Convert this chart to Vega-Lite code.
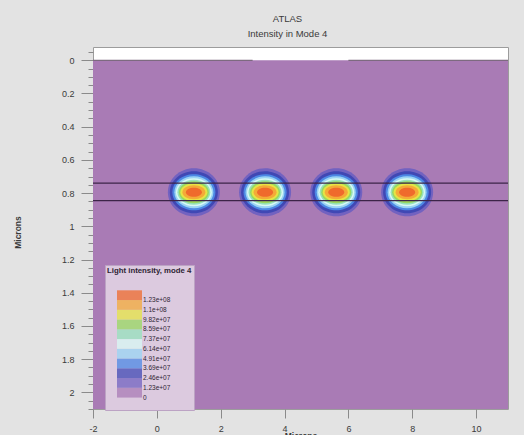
{
  "$schema": "https://vega.github.io/schema/vega-lite/v6.json",
  "width": 415,
  "height": 362,
  "autosize": {"type": "none"},
  "padding": {"left": 93, "top": 47, "right": 16, "bottom": 26},
  "background": "#e3e3e3",
  "title": {
    "text": "ATLAS",
    "subtitle": "Intensity in Mode 4",
    "anchor": "middle",
    "dx": -13,
    "offset": 9,
    "font": "Liberation Sans",
    "fontSize": 9.5,
    "fontWeight": "normal",
    "color": "#3a3a3a",
    "subtitleFont": "Liberation Sans",
    "subtitleFontSize": 9.5,
    "subtitleColor": "#3a3a3a",
    "subtitlePadding": 5
  },
  "config": {
    "font": "Liberation Sans",
    "view": {"fill": "#ffffff", "stroke": "#9c9c9c", "strokeWidth": 1}
  },
  "resolve": {"axis": {"y": "independent"}},
  "datasets": {
    "mesh": [
      {"x0": -2, "x1": 11, "y0": 0, "y1": 2.1, "intensity": 0}
    ],
    "spots": [
      {"x": 1.16, "y": 0.795, "intensity": 12300000},
      {"x": 1.16, "y": 0.795, "intensity": 24600000},
      {"x": 1.16, "y": 0.795, "intensity": 36900000},
      {"x": 1.16, "y": 0.795, "intensity": 49100000},
      {"x": 1.16, "y": 0.795, "intensity": 61400000},
      {"x": 1.16, "y": 0.795, "intensity": 73700000},
      {"x": 1.16, "y": 0.795, "intensity": 85900000},
      {"x": 1.16, "y": 0.795, "intensity": 98200000},
      {"x": 1.16, "y": 0.795, "intensity": 110000000},
      {"x": 1.16, "y": 0.795, "intensity": 123000000},
      {"x": 3.39, "y": 0.795, "intensity": 12300000},
      {"x": 3.39, "y": 0.795, "intensity": 24600000},
      {"x": 3.39, "y": 0.795, "intensity": 36900000},
      {"x": 3.39, "y": 0.795, "intensity": 49100000},
      {"x": 3.39, "y": 0.795, "intensity": 61400000},
      {"x": 3.39, "y": 0.795, "intensity": 73700000},
      {"x": 3.39, "y": 0.795, "intensity": 85900000},
      {"x": 3.39, "y": 0.795, "intensity": 98200000},
      {"x": 3.39, "y": 0.795, "intensity": 110000000},
      {"x": 3.39, "y": 0.795, "intensity": 123000000},
      {"x": 5.62, "y": 0.795, "intensity": 12300000},
      {"x": 5.62, "y": 0.795, "intensity": 24600000},
      {"x": 5.62, "y": 0.795, "intensity": 36900000},
      {"x": 5.62, "y": 0.795, "intensity": 49100000},
      {"x": 5.62, "y": 0.795, "intensity": 61400000},
      {"x": 5.62, "y": 0.795, "intensity": 73700000},
      {"x": 5.62, "y": 0.795, "intensity": 85900000},
      {"x": 5.62, "y": 0.795, "intensity": 98200000},
      {"x": 5.62, "y": 0.795, "intensity": 110000000},
      {"x": 5.62, "y": 0.795, "intensity": 123000000},
      {"x": 7.84, "y": 0.795, "intensity": 12300000},
      {"x": 7.84, "y": 0.795, "intensity": 24600000},
      {"x": 7.84, "y": 0.795, "intensity": 36900000},
      {"x": 7.84, "y": 0.795, "intensity": 49100000},
      {"x": 7.84, "y": 0.795, "intensity": 61400000},
      {"x": 7.84, "y": 0.795, "intensity": 73700000},
      {"x": 7.84, "y": 0.795, "intensity": 85900000},
      {"x": 7.84, "y": 0.795, "intensity": 98200000},
      {"x": 7.84, "y": 0.795, "intensity": 110000000},
      {"x": 7.84, "y": 0.795, "intensity": 123000000}
    ],
    "contacts": [
      {"x0": -2, "x1": 3, "y": 0},
      {"x0": 6, "x1": 11, "y": 0}
    ],
    "interfaces": [
      {"y": 0.74},
      {"y": 0.845}
    ]
  },
  "layer": [
    {
      "data": {"name": "mesh"},
      "mark": {"type": "rect"},
      "encoding": {
        "x": {
          "field": "x0",
          "type": "quantitative",
          "scale": {"domain": [-2, 11], "nice": false, "zero": false},
          "axis": {
            "values": [-2, -1.5, -1, -0.5, 0, 0.5, 1, 1.5, 2, 2.5, 3, 3.5, 4, 4.5, 5, 5.5, 6, 6.5, 7, 7.5, 8, 8.5, 9, 9.5, 10, 10.5, 11],
            "labelExpr": "abs(datum.value/2 - round(datum.value/2)) < 0.01 ? '' + datum.value : ''",
            "tickSize": {"condition": {"test": "abs(datum.value/2 - round(datum.value/2)) < 0.01", "value": 9}, "value": 4},
            "tickColor": "#8a8a8a",
            "domain": false,
            "grid": false,
            "labelFontSize": 9,
            "labelColor": "#3a3a3a",
            "labelPadding": 6,
            "labelFlush": false,
            "labelOverlap": false,
            "title": "Microns",
            "titleFontSize": 8.5,
            "titleFontWeight": "bold",
            "titleColor": "#3a3a3a",
            "titleY": 22
          }
        },
        "x2": {"field": "x1"},
        "y": {
          "field": "y0",
          "type": "quantitative",
          "scale": {"domain": [-0.08, 2.1], "reverse": true, "nice": false, "zero": false},
          "axis": {
            "orient": "left",
            "values": [0, 0.2, 0.4, 0.6, 0.8, 1, 1.2, 1.4, 1.6, 1.8, 2],
            "labelExpr": "'' + datum.value",
            "tickSize": 12,
            "tickColor": "#8a8a8a",
            "domain": false,
            "grid": false,
            "labelFontSize": 9,
            "labelColor": "#3a3a3a",
            "labelPadding": 7,
            "labelFlush": false,
            "labelOverlap": false,
            "title": "Microns",
            "titleFontSize": 8.5,
            "titleFontWeight": "bold",
            "titleColor": "#3a3a3a",
            "titleX": -71,
            "titleY": 185
          }
        },
        "y2": {"field": "y1"},
        "color": {
          "field": "intensity",
          "type": "quantitative",
          "scale": {
            "type": "quantize",
            "domain": [-12000000, 132000000],
            "range": ["#dccadf", "#a97bb5", "#7262c0", "#4048b4", "#4d88e4", "#9ad4f4", "#d8f8f4", "#96e2bc", "#98d860", "#e6e444", "#f4aa38", "#ef6a2c"]
          },
          "legend": {
            "type": "gradient",
            "orient": "none",
            "legendX": 12,
            "legendY": 218,
            "direction": "vertical",
            "title": "Light intensity, mode 4",
            "titleFontSize": 7.8,
            "titleFontWeight": "bold",
            "titleColor": "#2e1f33",
            "titlePadding": 15.5,
            "padding": 2,
            "fillColor": "#dccadf",
            "strokeColor": "#bca3c4",
            "gradientLength": 117,
            "gradientThickness": 25,
            "gradientStrokeWidth": 0,
            "labelFontSize": 6.5,
            "labelColor": "#2e1f33",
            "labelOffset": 11,
            "labelBaseline": "middle",
            "labelOverlap": false,
            "labelExpr": "datum.value < 0 ? '' : ['0','1.23e+07','2.46e+07','3.69e+07','4.91e+07','6.14e+07','7.37e+07','8.59e+07','9.82e+07','1.1e+08','1.23e+08',''][round(datum.value/12000000)]",
            "encode": {
              "gradient": {"update": {"x": {"value": 10}, "opacity": {"value": 0.75}}}
            }
          }
        }
      }
    },
    {
      "data": {"name": "spots"},
      "mark": {"type": "point", "filled": true, "opacity": 1, "strokeWidth": 0, "size": 4},
      "encoding": {
        "x": {"field": "x", "type": "quantitative"},
        "y": {"field": "y", "type": "quantitative", "axis": null},
        "color": {
          "field": "intensity",
          "type": "quantitative",
          "scale": {
            "type": "quantize",
            "domain": [-12000000, 132000000],
            "range": ["#dccadf", "#a97bb5", "#7262c0", "#4048b4", "#4d88e4", "#9ad4f4", "#d8f8f4", "#96e2bc", "#98d860", "#e6e444", "#f4aa38", "#ef6a2c"]
          }
        },
        "shape": {
          "field": "intensity",
          "type": "nominal",
          "scale": {
            "domain": [12300000, 24600000, 36900000, 49100000, 61400000, 73700000, 85900000, 98200000, 110000000, 123000000],
            "range": [
              "M-26,0C-26,-13.26 -14.36,-24 0,-24C14.36,-24 26,-13.26 26,0C26,13.26 14.36,24 0,24C-14.36,24 -26,13.26 -26,0Z",
              "M-24,0C-24,-11.6 -13.26,-21 0,-21C13.26,-21 24,-11.6 24,0C24,11.6 13.26,21 0,21C-13.26,21 -24,11.6 -24,0Z",
              "M-21.5,0C-21.5,-9.94 -11.87,-18 0,-18C11.87,-18 21.5,-9.94 21.5,0C21.5,9.94 11.87,18 0,18C-11.87,18 -21.5,9.94 -21.5,0Z",
              "M-19.5,0C-19.5,-8.84 -10.77,-16 0,-16C10.77,-16 19.5,-8.84 19.5,0C19.5,8.84 10.77,16 0,16C-10.77,16 -19.5,8.84 -19.5,0Z",
              "M-18,0C-18,-7.73 -9.94,-14 0,-14C9.94,-14 18,-7.73 18,0C18,7.73 9.94,14 0,14C-9.94,14 -18,7.73 -18,0Z",
              "M-16.5,0C-16.5,-6.9 -9.11,-12.5 0,-12.5C9.11,-12.5 16.5,-6.9 16.5,0C16.5,6.9 9.11,12.5 0,12.5C-9.11,12.5 -16.5,6.9 -16.5,0Z",
              "M-15,0C-15,-6.08 -8.28,-11 0,-11C8.28,-11 15,-6.08 15,0C15,6.08 8.28,11 0,11C-8.28,11 -15,6.08 -15,0Z",
              "M-13.5,0C-13.5,-4.97 -7.46,-9 0,-9C7.46,-9 13.5,-4.97 13.5,0C13.5,4.97 7.46,9 0,9C-7.46,9 -13.5,4.97 -13.5,0Z",
              "M-11.5,0C-11.5,-3.87 -6.35,-7 0,-7C6.35,-7 11.5,-3.87 11.5,0C11.5,3.87 6.35,7 0,7C-6.35,7 -11.5,3.87 -11.5,0Z",
              "M-8,0C-8,-2.49 -4.42,-4.5 0,-4.5C4.42,-4.5 8,-2.49 8,0C8,2.49 4.42,4.5 0,4.5C-4.42,4.5 -8,2.49 -8,0Z"
            ]
          },
          "legend": null
        },
        "order": {"field": "intensity", "type": "quantitative"}
      }
    },
    {
      "data": {"name": "contacts"},
      "mark": {"type": "rule", "color": "#7d6a80", "strokeWidth": 1.2},
      "encoding": {
        "x": {"field": "x0", "type": "quantitative"},
        "x2": {"field": "x1"},
        "y": {
          "field": "y",
          "type": "quantitative",
          "axis": {
            "orient": "left",
            "values": [-0.05, 0.05, 0.1, 0.15, 0.25, 0.3, 0.35, 0.45, 0.5, 0.55, 0.65, 0.7, 0.75, 0.85, 0.9, 0.95, 1.05, 1.1, 1.15, 1.25, 1.3, 1.35, 1.45, 1.5, 1.55, 1.65, 1.7, 1.75, 1.85, 1.9, 1.95, 2.05, 2.1],
            "tickSize": 5,
            "tickColor": "#8a8a8a",
            "labels": false,
            "domain": false,
            "grid": false,
            "title": null
          }
        }
      }
    },
    {
      "data": {"name": "interfaces"},
      "mark": {"type": "rule", "color": "#3c2448", "strokeWidth": 1.4},
      "encoding": {
        "y": {"field": "y", "type": "quantitative", "axis": null}
      }
    }
  ]
}
